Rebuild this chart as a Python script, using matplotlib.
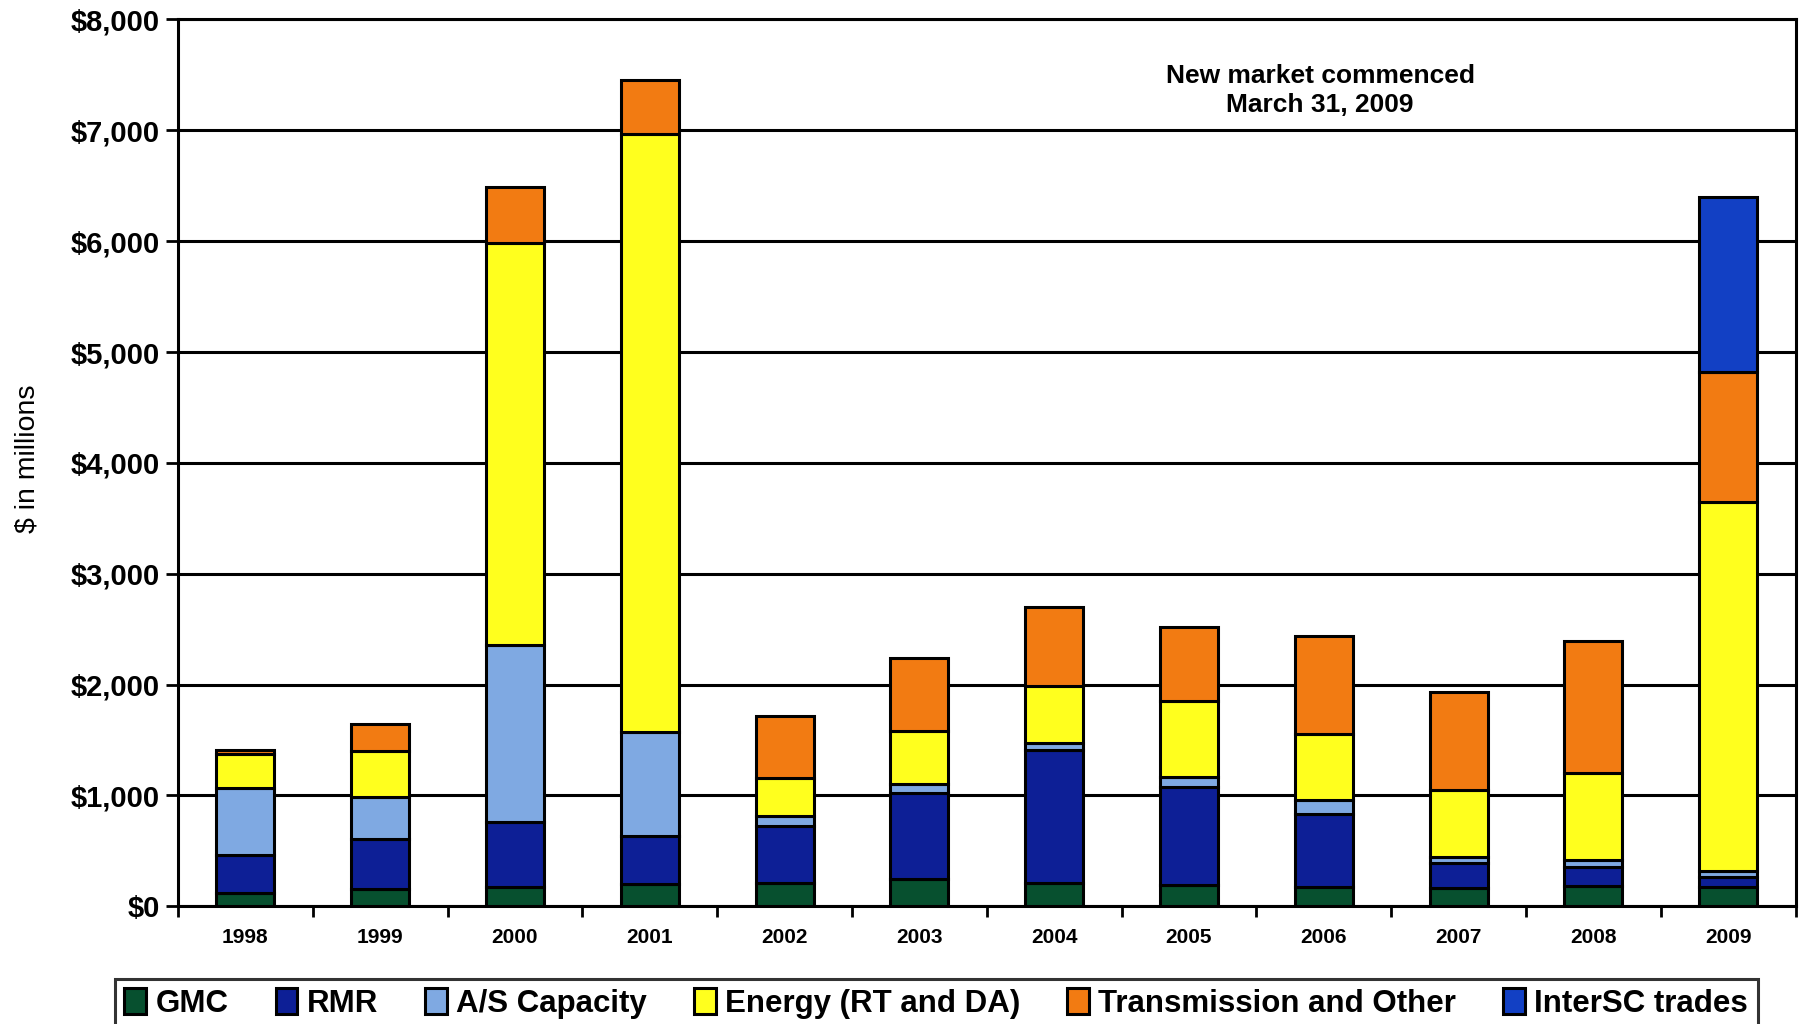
import matplotlib
matplotlib.use("Agg")
import matplotlib.pyplot as plt
from matplotlib.ticker import FuncFormatter, FixedLocator
import numpy as np

plt.rcParams['font.family'] = ['Liberation Sans', 'DejaVu Sans']

years = ['1998', '1999', '2000', '2001', '2002', '2003',
         '2004', '2005', '2006', '2007', '2008', '2009']

# $ millions by cost category
gmc = [120, 156, 171, 201, 211, 244, 214, 196, 175, 168, 186, 177]
rmr = [340, 450, 586, 436, 513, 776, 1198, 884, 655, 222, 165, 83]
as_capacity = [604, 382, 1603, 937, 90, 84, 60, 90, 125, 52, 69, 60]
energy = [309, 415, 3626, 5396, 347, 473, 513, 679, 595, 609, 780, 3330]
transmission = [36, 239, 506, 487, 552, 665, 715, 666, 890, 879, 1190, 1170]
intersc = [0, 0, 0, 0, 0, 0, 0, 0, 0, 0, 0, 1580]

series_names = ['GMC', 'RMR', 'A/S Capacity', 'Energy (RT and DA)',
                'Transmission and Other', 'InterSC trades']
series_colors = ['#07502F', '#0D1F96', '#7FA9E2', '#FFFF1E', '#F27B12', '#1240C4']

fig = plt.figure(figsize=(18.01, 10.24), dpi=100)
ax = fig.add_axes([0.0988, 0.115, 0.8982, 0.866])

x = np.arange(len(years))
bottom = np.zeros(len(years))
handles = []
for vals, name, col in zip([gmc, rmr, as_capacity, energy, transmission, intersc],
                           series_names, series_colors):
    v = np.array(vals, dtype=float)
    mask = v > 0
    bars = ax.bar(x[mask], v[mask], width=0.43, bottom=bottom[mask], color=col,
                  edgecolor='black', linewidth=2.2, label=name, zorder=3)
    handles.append(bars)
    bottom += v

ax.set_xlim(-0.5, 11.5)
ax.set_ylim(0, 8000)
ax.yaxis.set_major_locator(FixedLocator(np.arange(0, 8001, 1000)))
ax.yaxis.set_major_formatter(FuncFormatter(lambda v, p: f"${v:,.0f}"))
ax.grid(axis='y', color='black', linewidth=2.2, zorder=0)
ax.set_axisbelow(True)

ax.set_xticks(x)
ax.set_xticklabels(years, fontsize=15, fontweight='bold')
ax.tick_params(axis='x', length=0, pad=16)
ax.set_xticks(np.arange(-0.5, 12, 1.0), minor=True)
ax.tick_params(axis='x', which='minor', length=8, width=2, direction='out')
ax.tick_params(axis='y', length=9, width=2, labelsize=21, pad=4)
for lbl in ax.get_yticklabels():
    lbl.set_fontweight('bold')

for s in ax.spines.values():
    s.set_linewidth(2.2)
    s.set_color('black')

ax.set_ylabel('$ in millions', fontsize=20.5)
ax.yaxis.set_label_coords(-0.085, 0.505)

ax.text(0.706, 0.92, 'New market commenced\nMarch 31, 2009', transform=ax.transAxes,
        ha='center', va='center', fontsize=19, fontweight='bold', linespacing=1.23)

leg = fig.legend(handles=handles, labels=series_names, loc='upper left',
                 bbox_to_anchor=(115 / 1801, 1 - 979 / 1024), ncol=6,
                 frameon=True, fancybox=False, edgecolor='black',
                 handlelength=0.7, handleheight=0.9, handletextpad=0.3,
                 columnspacing=1.5, borderaxespad=0, borderpad=0.3,
                 prop={'family': ['Liberation Sans Narrow', 'Liberation Sans', 'DejaVu Sans'],
                       'weight': 'bold', 'size': 22.5})
leg.get_frame().set_linewidth(2.2)

fig.savefig('out.png', dpi=100)
